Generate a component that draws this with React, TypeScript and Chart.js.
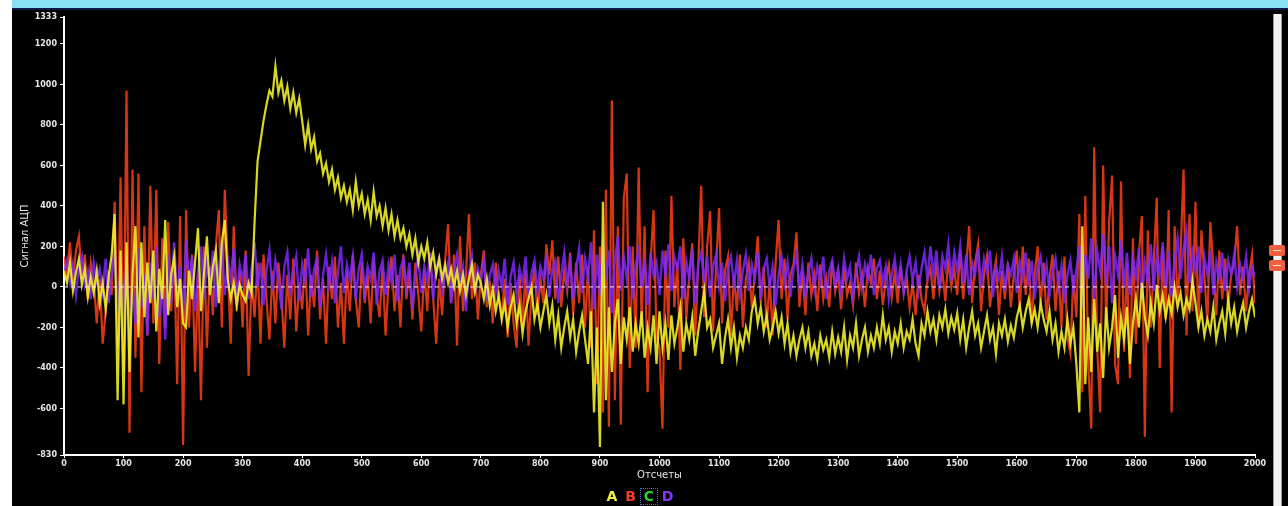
import React, { useEffect, useRef } from "react";
import { Chart, registerables } from "chart.js";

Chart.register(...registerables);

// ---- data ----
const SAMPLE_STEP = 5;
const X_MIN = 0;
const X_MAX = 2000;
const X_TICK_STEP = 100;
const Y_MIN = -830;
const Y_MAX = 1333;
const Y_TICKS = [-830, -600, -400, -200, 0, 200, 400, 600, 800, 1000, 1200, 1333];
const X_TITLE = "Отсчеты";
const Y_TITLE = "Сигнал АЦП";

// Series A (yellow), one value per 5 samples
const SERIES_A = [
  80, 20, 120, -20, 70, 140, 10, 90, -50, 50, -30, 80, -80, 20, -110, 50, 160, 360, -560, 180,
  -580, 220, -420, 60, 300, -250, 220, -150, 120, -80, 180, -220, 90, -60, 330, -140, 60, 150, -100, 40,
  -180, -200, 80, -60, 120, 290, -120, 60, 250, -40, 100, 180, -80, 220, 330, 40, -60, 20, -90, 10,
  -40, -70, 20, -30, 320, 620, 720, 820, 900, 970, 940, 1090, 960, 1020, 920, 990, 880, 960, 860, 930,
  820, 700, 800, 680, 740, 620, 660, 560, 610, 520, 580, 480, 540, 440, 500, 420, 480, 380, 520, 400,
  460, 360, 430, 330, 470, 350, 400, 300, 390, 280, 360, 250, 330, 240, 290, 200, 260, 160, 240, 120,
  200, 140, 220, 100, 170, 60, 140, 40, 110, 20, 90, 0, 80, -20, 60, -40, 40, 110, -20, 60,
  20, -60, 40, -90, -10, -120, -40, -160, -80, -200, -100, -40, -180, -90, -230, -120, -60, 0, -160, -80,
  -200, -120, -40, -180, -90, -260, -140, -300, -200, -120, -250, -160, -320, -220, -140, -260, -380, -120, -620, -200,
  -790, 420, -560, -100, -420, -180, -60, -380, -150, -260, -100, -320, -180, -280, -120, -350, -200, -300, -140, -380,
  -120, -300, -180, -360, -140, -280, -200, -100, -320, -180, -260, -150, -340, -220, -120, -20, -200, -160, -300, -240,
  -180, -380, -250, -160, -300, -200, -350, -240, -300, -200, -260, -120, -60, -180, -100, -220, -140, -260, -200, -120,
  -230, -150, -280, -180, -320, -240, -340, -260, -200, -300, -220, -340, -280, -360, -240, -310, -260, -350, -220, -330,
  -250, -320, -200, -360, -240, -300, -180, -340, -260, -200, -320, -240, -300, -200, -280, -140, -260, -200, -320, -220,
  -280, -180, -300, -220, -260, -160, -280, -340, -180, -240, -120, -220, -160, -260, -140, -200, -110, -230, -150, -210,
  -130, -260, -160, -300, -200, -120, -240, -180, -300, -220, -140, -260, -200, -330, -180, -240, -160, -270, -190, -250,
  -150, -90, -200, -120, -60, -180, -110, -200, -80, -160, -220, -120, -260, -180, -320, -220, -300, -160, -280, -200,
  -380, -620, 300, -480, -150, -420, -60, -320, -180, -450, -100, -300, -200, -40, -350, -150, -260, -100, -380, -180,
  -60, -200, 20, -150, -240, -80, -180, 10, -120, -40, -150, -60, -130, 0, -100, -30, -140, -60, -110, 30,
  -80, -200, -120, -240, -160, -220, -100, -260, -180, -120, -230, -60, -180, -100, -220, -140, -80, -200, -120, -60,
  -150,
];

// Series B (red)
const SERIES_B = [
  150, 60, 220, 20, 180, 250, 40, 160, -60, 120, 30, -180, 40, -280, -120, 80, -40, 420, -300, 540,
  -420, 970, -720, 580, -350, 560, -520, 300, -240, 500, -180, 480, -380, 240, -200, 320, -120, 180, -480, 350,
  -780, 380, -200, 160, -420, 60, -560, 200, -300, 100, -140, 200, 380, -200, 480, 100, -280, 300, -120, 80,
  -200, 180, -440, 40, -150, 120, -280, 160, -60, -260, 80, -180, 120, -40, -300, 60, -160, 140, -220, 20,
  -110, 140, -240, 60, -100, 180, -160, 40, -280, 100, -60, 150, -200, 20, -280, 80, -120, 160, -60, -200,
  120, -80, 60, -180, 140, -40, -150, 100, -240, 20, 150, -120, 60, -200, 160, -60, 80, -160, 120, -40,
  -220, 90, -120, 170, -60, -280, 40, -140, 130, 310, -80, 160, -290, 250, -120, 60, 360, -60, 120, -160,
  60, 180, -100, 30, -180, 120, -60, -150, 40, -250, 20, -180, -300, 60, -200, 80, -290, -40, 100, -140,
  40, -80, 210, 60, 230, -60, 150, -100, 80, -20, 170, -140, 120, -80, 160, -200, 100, -300, 280, -480,
  200, -620, 480, -690, 920, -560, 300, -680, 440, 560, -400, 200, -300, 590, -200, 300, -520, 120, 380, -240,
  -300, -700, 180, -200, 450, -100, 120, -410, 240, -160, 60, 215, -240, 100, 500, -150, 200, 375, -220, 100,
  390, -180, 80, 150, -240, 60, -120, 160, -200, 40, 120, -100, 60, 250, -80, 100, -200, 40, -240, 120,
  330, -60, 140, -160, 60, 110, 270, -100, 80, -140, 120, -40, 60, -120, 110, -60, 40, -100, 130, -20,
  70, -110, 100, -40, 20, -90, 120, -30, 60, -100, 90, 20, 140, -60, 80, -90, 40, 110, -50, 70,
  -80, 100, -30, 50, -100, 20, -140, 60, -60, -120, 40, 90, -60, 120, -20, 80, -70, 140, 0, 90,
  -40, 180, -60, 100, 300, -80, 120, 210, -120, 60, 150, -100, 40, 130, -140, 80, -60, 120, -100, 60,
  180, -120, 200, -40, 140, -180, 60, 200, -100, 120, -160, 40, 160, -120, 80, -200, 150, -250, -330, 60,
  -150, 360, -520, 450, -380, -700, 690, -300, -620, 600, -200, 320, 550, -380, -480, 520, -320, 120, -450, 240,
  -280, 160, 350, -740, 280, -200, 120, 440, -400, 200, -160, 380, -620, 300, -80, 160, 580, -240, 360, -120,
  420, -200, 280, 60, -180, 320, 100, -140, 180, -60, 140, -100, 60, 120, 300, -40, 100, -120, 60, 160,
  -80,
];

// Series D (purple)
const SERIES_D = [
  60, 130, 20, 110, -40, 90, 150, 10, 80, -60, 120, 30, 90, -20, 140, -80, 60, 200, -120, 80,
  -220, 150, -280, 40, -180, 190, -100, 60, -240, 120, -60, 200, -150, 40, -260, 160, -80, 220, -40, 100,
  -140, 230, 20, 150, -120, 80, 200, -60, 120, 10, 180, -100, 90, 220, -40, 140, 40, 190, -80, 110,
  30, 160, -60, 90, 220, 0, 120, -90, 80, 180, -20, 130, 40, -110, 100, 170, -40, 80, 150, -70,
  110, 30, 190, -50, 90, 140, -100, 60, 160, 10, 120, -80, 70, 200, -30, 110, 40, 150, -60, 90,
  160, -20, 100, 40, 170, -90, 80, 130, -40, 110, 20, 160, -70, 90, 140, 0, 120, -110, 60, 150,
  -30, 100, 30, 170, -60, 90, 140, -20, 60, 120, -80, 80, 160, 20, 100, -120, 70, 150, -40, 90,
  30, 130, -70, 60, 110, -30, 80, 0, 140, -90, 50, 120, -40, 90, 20, 150, -60, 70, 130, -20,
  100, 40, 160, -50, 90, 130, -80, 60, 170, 10, 120, -60, 90, 190, -30, 140, 50, 220, -110, 160,
  -40, 240, 60, 180, -130, 130, 250, -20, 150, 40, 200, -60, 110, 180, 0, 140, -90, 170, 60, 120,
  -40, 180, 60, 210, -20, 150, 90, 200, -60, 130, 40, 190, -80, 110, 170, 20, 150, -50, 100, 160,
  0, 120, -70, 90, 150, 10, 130, -40, 80, 160, -20, 110, 40, 170, -60, 90, 140, 0, 100, -90,
  60, 150, 20, 120, -50, 90, 160, 0, 110, -40, 70, 140, -10, 100, 30, 150, -60, 80, 130, 10,
  90, -30, 140, 40, 100, -50, 70, 150, 0, 110, 40, 160, -40, 90, 130, 20, 100, -60, 60, 140,
  10, 110, -30, 80, 150, 30, 120, -20, 90, 170, 40, 200, 60, 180, -10, 150, 90, 210, 30, 170,
  80, 200, 20, 160, -40, 120, 60, 190, 0, 140, 70, 180, -50, 100, 40, 150, -20, 110, 60, 140,
  -30, 120, 40, 170, 0, 130, -60, 90, 150, 20, 110, -40, 70, 140, 0, 100, -80, 60, 130, -20,
  90, 200, -100, 160, 40, 240, -60, 180, 80, 260, 10, 200, -80, 150, 60, 230, 0, 170, -40, 140,
  50, 190, -60, 120, 30, 210, -20, 160, 60, 220, 0, 180, -50, 130, 240, 40, 190, 280, 20, 170,
  80, 200, -30, 150, 60, 180, -40, 120, 40, 170, -20, 130, 60, 160, 0, 110, 40, 150, -10, 100,
  50,
];

const LEGEND_ITEMS = [
  { label: "A", color: "#f2f23a" },
  { label: "B", color: "#f2401e" },
  { label: "C", color: "#2fd02f", boxed: true },
  { label: "D", color: "#8a34f0" },
];

const COLOR_A = "rgba(240, 240, 40, 0.9)";
const COLOR_B = "rgba(238, 60, 22, 0.9)";
const COLOR_D = "rgba(124, 40, 250, 0.85)";

const toPoints = (values: number[]) =>
  values.map((v, i) => ({ x: i * SAMPLE_STEP, y: v }));

const FONT_FAMILY = "'DejaVu Sans', 'Liberation Sans', sans-serif";

// soft glow like the original oscilloscope render
const softLines = {
  id: "softLines",
  beforeDatasetDraw(chart: any, args: any) {
    const ctx = chart.ctx;
    ctx.save();
    if (args.meta.label !== "zero") ctx.filter = "blur(0.5px)";
  },
  afterDatasetDraw(chart: any) {
    chart.ctx.restore();
  },
};

export default function App() {
  const canvasRef = useRef<HTMLCanvasElement | null>(null);

  useEffect(() => {
    if (!canvasRef.current) return;
    const tickFont = { family: FONT_FAMILY, size: 8, weight: "bold" as const, lineHeight: 1 };
    const chart = new Chart(canvasRef.current, {
      type: "line",
      data: {
        datasets: [
          {
            label: "zero",
            data: [
              { x: X_MIN, y: 0 },
              { x: X_MAX, y: 0 },
            ],
            borderColor: "rgba(255, 240, 255, 0.95)",
            borderWidth: 1,
            borderDash: [4, 3],
            pointRadius: 0,
          },
          {
            label: "A",
            data: toPoints(SERIES_A),
            borderColor: COLOR_A,
            borderWidth: 2.2,
            pointRadius: 0,
            tension: 0,
          },
          {
            label: "D",
            data: toPoints(SERIES_D),
            borderColor: COLOR_D,
            borderWidth: 2.4,
            pointRadius: 0,
            tension: 0,
          },
          {
            label: "B",
            data: toPoints(SERIES_B),
            borderColor: COLOR_B,
            borderWidth: 2.2,
            pointRadius: 0,
            tension: 0,
          },
        ],
      },
      options: {
        animation: false,
        responsive: false,
        devicePixelRatio: 1,
        events: [],
        layout: { padding: { left: 0, right: 19, top: 5, bottom: 0 } },
        plugins: {
          legend: { display: false },
          tooltip: { enabled: false },
        },
        scales: {
          x: {
            type: "linear",
            min: X_MIN,
            max: X_MAX,
            afterFit: (s: any) => {
              s.height = 51;
            },
            ticks: {
              stepSize: X_TICK_STEP,
              autoSkip: false,
              maxRotation: 0,
              color: "#e6e6e6",
              font: tickFont,
              padding: 2,
              callback: (v: any) => String(v),
            },
            grid: {
              display: true,
              drawOnChartArea: false,
              drawTicks: true,
              tickLength: 3,
              color: "#ffffff",
            },
            border: { display: true, color: "#ffffff", width: 2 },
            title: {
              display: true,
              text: X_TITLE,
              color: "#e6e6e6",
              font: { family: FONT_FAMILY, size: 10 },
              padding: { top: 0, bottom: 25 },
            },
          },
          y: {
            type: "linear",
            min: Y_MIN,
            max: Y_MAX,
            afterBuildTicks: (s: any) => {
              s.ticks = Y_TICKS.map((v) => ({ value: v }));
            },
            afterFit: (s: any) => {
              s.width = 52;
            },
            ticks: {
              color: "#e6e6e6",
              font: tickFont,
              padding: 3,
              callback: (v: any) => String(v),
            },
            grid: {
              display: true,
              drawOnChartArea: false,
              drawTicks: true,
              tickLength: 4,
              color: "#ffffff",
            },
            border: { display: true, color: "#ffffff", width: 2 },
            title: {
              display: true,
              text: Y_TITLE,
              color: "#e6e6e6",
              font: { family: FONT_FAMILY, size: 10 },
              padding: { top: 7, bottom: 0 },
            },
          },
        },
      },
      plugins: [softLines],
    });
    return () => chart.destroy();
  }, []);

  return (
    <div
      style={{
        position: "absolute",
        left: 0,
        top: 0,
        width: 1288,
        height: 506,
        background: "#ffffff",
        overflow: "hidden",
      }}
    >
      <div
        style={{
          position: "absolute",
          left: 12,
          top: 0,
          width: 1276,
          height: 506,
          background: "#000000",
        }}
      />
      <div
        style={{
          position: "absolute",
          left: 12,
          top: 0,
          width: 1276,
          height: 8,
          background: "#86e2f4",
        }}
      />
      <div
        style={{
          position: "absolute",
          left: 12,
          top: 8,
          width: 1276,
          height: 2,
          background: "#0c1c44",
        }}
      />
      <canvas
        ref={canvasRef}
        width={1262}
        height={496}
        style={{ position: "absolute", left: 12, top: 10, width: 1262, height: 496, display: "block" }}
      />
      {/* right-hand scroll bar with markers */}
      <div
        style={{
          position: "absolute",
          left: 1273,
          top: 14,
          width: 7,
          height: 492,
          background: "#f4f4f4",
          borderLeft: "1px solid #9a9a9a",
          borderRight: "1px solid #9a9a9a",
        }}
      />
      {[245, 260].map((t) => (
        <div
          key={t}
          style={{
            position: "absolute",
            left: 1269,
            top: t,
            width: 16,
            height: 11,
            background: "#f0603e",
            borderRadius: 2,
          }}
        >
          <div
            style={{
              position: "absolute",
              left: 4,
              top: 5,
              width: 8,
              height: 1,
              background: "#ffe0d0",
            }}
          />
        </div>
      ))}
      {/* legend */}
      {LEGEND_ITEMS.map((item, i) => (
        <div
          key={item.label}
          style={{
            position: "absolute",
            left: 603 + i * 18.5,
            top: 488,
            width: 18,
            height: 17,
            boxSizing: "border-box",
            border: item.boxed ? "1px dotted #4a6ee0" : "1px solid transparent",
            color: item.color,
            fontFamily: FONT_FAMILY,
            fontWeight: "bold",
            fontSize: 14,
            lineHeight: "15px",
            textAlign: "center",
          }}
        >
          {item.label}
        </div>
      ))}
    </div>
  );
}
